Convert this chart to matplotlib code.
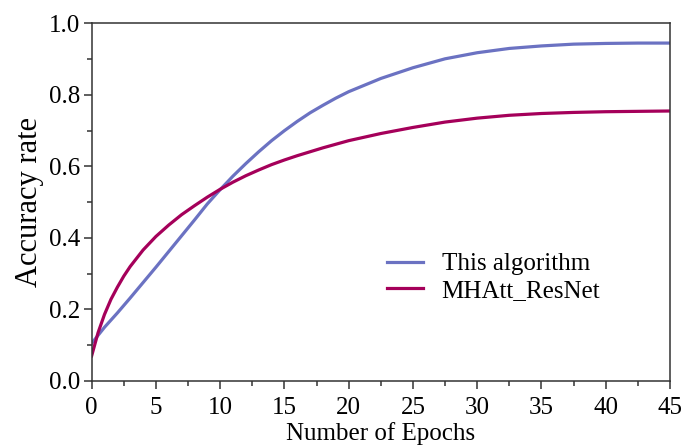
import numpy as np
import matplotlib.pyplot as plt
from matplotlib.ticker import MultipleLocator

# accuracy per epoch
epochs_ours = [0, 1, 2, 3, 4, 5, 6, 7, 8, 9, 10, 11, 12, 13, 14, 15, 16, 17,
               18, 19, 20, 22.5, 25, 27.5, 30, 32.5, 35, 37.5, 40, 42.5, 45]
acc_ours = [0.105, 0.150, 0.190, 0.232, 0.275, 0.318, 0.362, 0.406, 0.450,
            0.495, 0.535, 0.573, 0.608, 0.641, 0.672, 0.700, 0.726, 0.750,
            0.771, 0.791, 0.809, 0.846, 0.876, 0.901, 0.918, 0.930, 0.937,
            0.942, 0.944, 0.945, 0.945]

epochs_mhatt = [0, 0.5, 1, 1.5, 2, 2.5, 3, 4, 5, 6, 7, 8, 9, 10, 11, 12, 13,
                14, 15, 16, 17, 18, 19, 20, 22.5, 25, 27.5, 30, 32.5, 35,
                37.5, 40, 42.5, 45]
acc_mhatt = [0.070, 0.135, 0.186, 0.228, 0.262, 0.293, 0.320, 0.366, 0.404,
             0.436, 0.465, 0.490, 0.514, 0.536, 0.556, 0.574, 0.590, 0.605,
             0.618, 0.630, 0.641, 0.652, 0.662, 0.672, 0.692, 0.709, 0.724,
             0.735, 0.743, 0.748, 0.751, 0.753, 0.754, 0.755]

plt.rcParams['font.family'] = ['Liberation Serif', 'DejaVu Serif']

fig = plt.figure(figsize=(6.84, 4.46), dpi=100)
ax = fig.add_axes([0.134, 0.146, 0.8455, 0.8015])

ax.plot(epochs_ours, acc_ours, color='#6B72C2', lw=2.3, label='This algorithm')
ax.plot(epochs_mhatt, acc_mhatt, color='#A5005A', lw=2.3, label='MHAtt_ResNet')

ax.set_xlim(0, 45)
ax.set_ylim(0, 1.0)
ax.xaxis.set_major_locator(MultipleLocator(5))
ax.xaxis.set_minor_locator(MultipleLocator(2.5))
ax.yaxis.set_major_locator(MultipleLocator(0.2))
ax.yaxis.set_minor_locator(MultipleLocator(0.1))
ax.yaxis.set_major_formatter(plt.FormatStrFormatter('%.1f'))

for s in ax.spines.values():
    s.set_color('#333333')
    s.set_linewidth(1.1)
ax.tick_params(which='both', direction='out', color='#333333', width=1.1,
               top=False, right=False)
ax.tick_params(which='major', length=6, labelsize=18)
ax.tick_params(axis='x', which='major', pad=5.5)
ax.tick_params(axis='y', which='major', pad=2)
ax.tick_params(which='minor', length=3.5)

ax.set_xlabel('Number of Epochs', fontsize=18, labelpad=2.5)
ax.set_ylabel('Accuracy rate', fontsize=22, labelpad=4)

ax.legend(loc='center left', bbox_to_anchor=(0.471, 0.29), frameon=False,
          fontsize=18, handlelength=1.45, handletextpad=0.75, labelspacing=0.15)

fig.savefig('out.png', dpi=100)
